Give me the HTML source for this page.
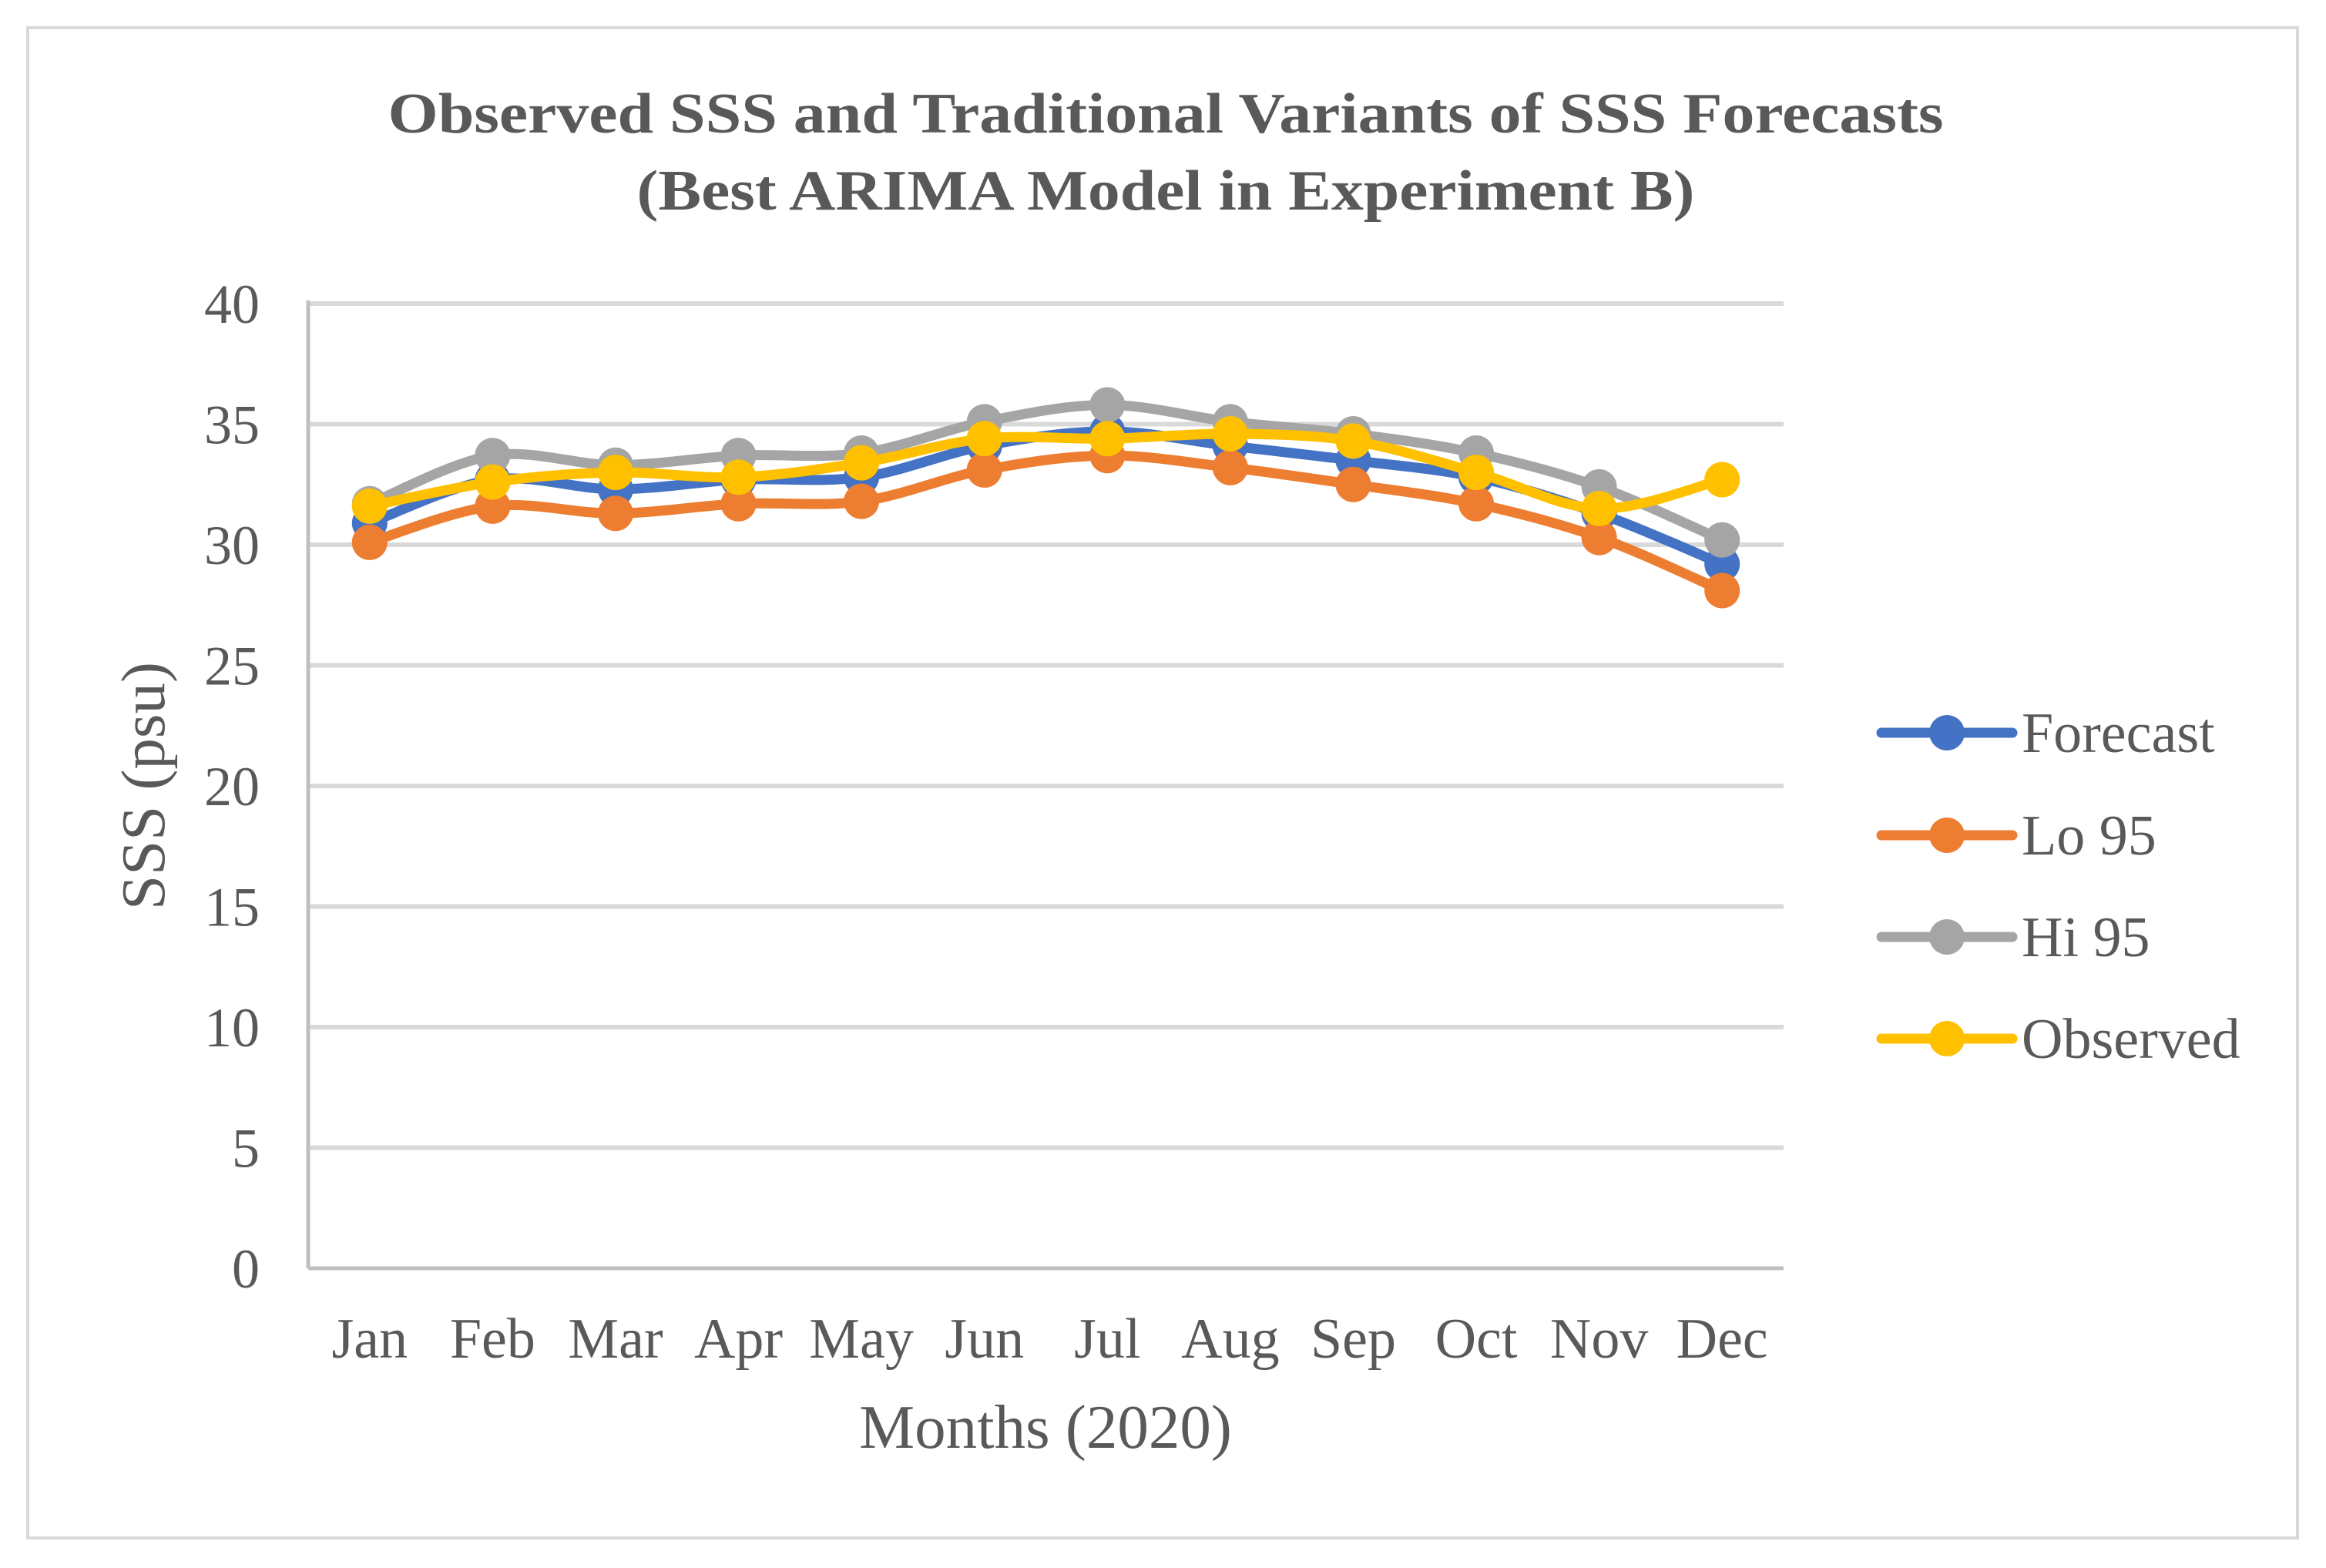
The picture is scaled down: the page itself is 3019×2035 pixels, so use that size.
<!DOCTYPE html>
<html><head><meta charset="utf-8"><style>
html,body{margin:0;padding:0;background:#fff}
svg text{font-family:"Liberation Serif",serif;fill:#595959}
</style></head><body>
<svg id="chart" width="3019" height="2030" viewBox="0 0 3019 2030" xmlns="http://www.w3.org/2000/svg">
<rect x="36" y="36" width="2946" height="1960" fill="#fff" stroke="#d9d9d9" stroke-width="4"/>
<text x="1513" y="172" font-size="74" font-weight="bold" text-anchor="middle" textLength="2019" lengthAdjust="spacingAndGlyphs">Observed SSS and Traditional Variants of SSS Forecasts</text>
<text x="1513" y="272" font-size="74" font-weight="bold" text-anchor="middle" textLength="1373" lengthAdjust="spacingAndGlyphs">(Best ARIMA Model in Experiment B)</text>
<g id="grid"></g>
<g id="series"></g>
<g id="legend"></g>
<text transform="translate(213,1020) rotate(-90)" font-size="81" text-anchor="middle">SSS (psu)</text>
<text x="1357" y="1879" font-size="81" text-anchor="middle">Months (2020)</text>
</svg>
<script>
const categories = ["Jan","Feb","Mar","Apr","May","Jun","Jul","Aug","Sep","Oct","Nov","Dec"];
const forecast = [30.9,32.7,32.3,32.7,32.8,34.1,34.7,34.1,33.5,32.8,31.3,29.2];
const lo95 = [30.1,31.6,31.3,31.7,31.8,33.1,33.7,33.2,32.5,31.7,30.3,28.1];
const hi95 = [31.7,33.7,33.3,33.7,33.8,35.1,35.8,35.1,34.6,33.8,32.4,30.2];
const observed = [31.6,32.6,33.0,32.8,33.4,34.4,34.4,34.6,34.3,33.0,31.5,32.7];
const yTicks = [0,5,10,15,20,25,30,35,40];
const seriesNames = ["Forecast","Lo 95","Hi 95","Observed"];

const NS="http://www.w3.org/2000/svg";
const L=400,R=2315,T=394,B=1646,yMax=40;
const band=(R-L)/categories.length;
const xS=i=>L+band*(i+0.5);
const yS=v=>B-(v/yMax)*(B-T);
function mk(tag,attrs,parent){const e=document.createElementNS(NS,tag);for(const k in attrs)e.setAttribute(k,attrs[k]);parent.appendChild(e);return e;}
const grid=document.getElementById('grid');
yTicks.forEach(t=>{
  if(t>0){const g=mk('line',{x1:L,x2:R,y1:yS(t),y2:yS(t),stroke:'#d9d9d9','stroke-width':6},grid);
  
  }
  const tx=mk('text',{x:337,y:yS(t)+25,'font-size':72,'text-anchor':'end'},grid);
  tx.textContent=t;
  
  
});
const ax=mk('line',{x1:L,x2:L,y1:T-4,y2:B,stroke:'#bfbfbf','stroke-width':5},grid);


const bx=mk('line',{x1:L,x2:R,y1:B,y2:B,stroke:'#bfbfbf','stroke-width':5},grid);


categories.forEach((c,i)=>{
  const tx=mk('text',{x:xS(i),y:1762,'font-size':74,'text-anchor':'middle'},grid);
  tx.textContent=c;
  
  
});
function smooth(pts){
  let d='M'+pts[0][0]+','+pts[0][1];
  for(let i=0;i<pts.length-1;i++){
    const p0=pts[i-1]||pts[i],p1=pts[i],p2=pts[i+1],p3=pts[i+2]||p2;
    const c1=[p1[0]+(p2[0]-p0[0])/6,p1[1]+(p2[1]-p0[1])/6];
    const c2=[p2[0]-(p3[0]-p1[0])/6,p2[1]-(p3[1]-p1[1])/6];
    d+=' C'+c1+' '+c2+' '+p2;
  }
  return d;
}
const all=[forecast,lo95,hi95,observed];
const colors=["#4472c4","#ed7d31","#a5a5a5","#ffc000"];
const sg=document.getElementById('series');
all.forEach((data,s)=>{
  const g=mk('g',{},sg);
  
  
  const pts=data.map((v,i)=>[xS(i),yS(v)]);
  const p=mk('path',{d:smooth(pts),fill:'none',stroke:colors[s],'stroke-width':13,'stroke-linejoin':'round'},g);
  
  
  pts.forEach((q,i)=>{
    const c=mk('circle',{cx:q[0],cy:q[1],r:23,fill:colors[s]},g);
    
    
  });
});
const lg=document.getElementById('legend');
const legY=[951,1084,1216,1348];
seriesNames.forEach((n,s)=>{
  const g=mk('g',{},lg);
  
  
  mk('line',{x1:2442,x2:2612,y1:legY[s],y2:legY[s],stroke:colors[s],'stroke-width':13,'stroke-linecap':'round'},g);
  mk('circle',{cx:2527,cy:legY[s],r:23,fill:colors[s]},g);
  const t=mk('text',{x:2624,y:legY[s]+25,'font-size':74},g);
  t.textContent=n;
});
</script>
</body></html>
